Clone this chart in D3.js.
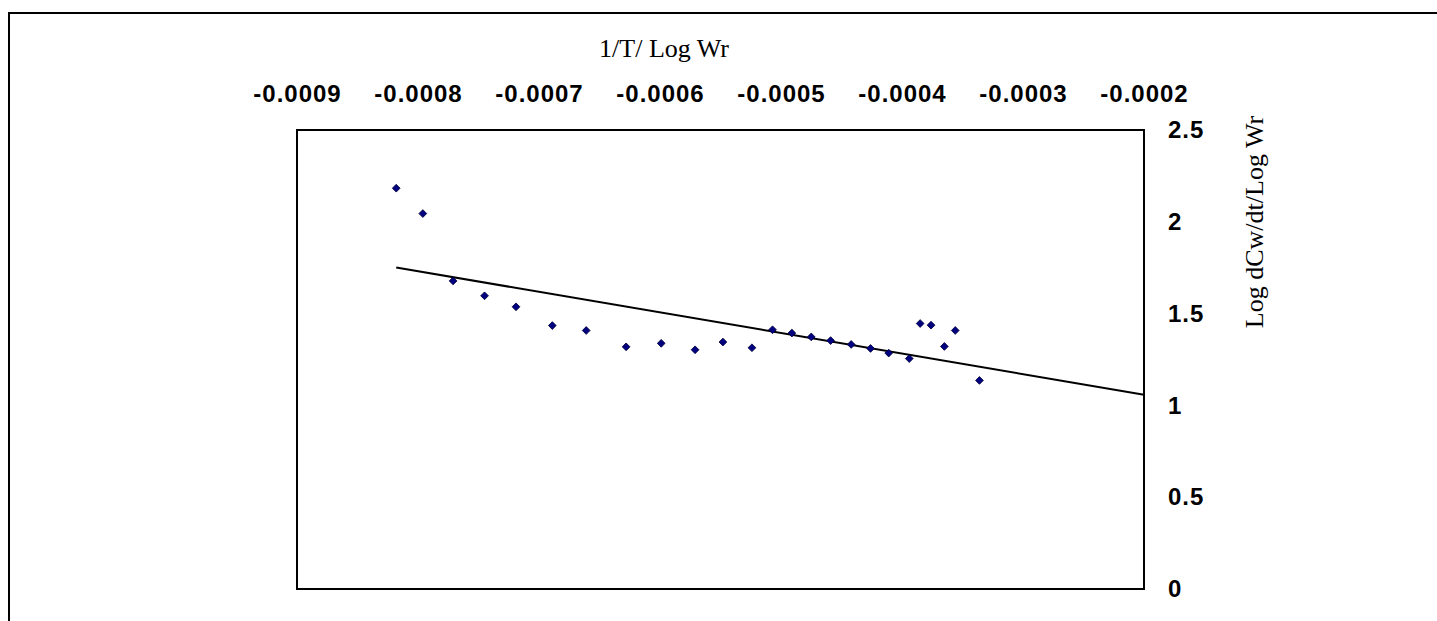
<!DOCTYPE html>
<html lang="en">
<head>
    <meta charset="UTF-8">
    <title>1/T / Log Wr</title>
    <script src="https://cdnjs.cloudflare.com/ajax/libs/d3/7.6.1/d3.min.js"></script>
    <style>
        body { margin: 0; background: #fff; }
        .tick text { font-family: 'Liberation Sans', Arial, sans-serif; font-weight: bold; font-size: 24px; letter-spacing: 1px; fill: #000; }
        .title { font-family: 'Liberation Serif', 'Times New Roman', serif; font-size: 26px; fill: #000; }
    </style>
</head>
<body>
    <div id="svgBox"></div>
    <script>
        // data
        var xVals = [-0.000818, -0.000796, -0.000771, -0.000745, -0.000719, -0.000689, -0.000661,
                     -0.000628, -0.000599, -0.000571, -0.000548, -0.000524, -0.000507, -0.000491,
                     -0.000475, -0.000459, -0.000442, -0.000426, -0.000411, -0.000394, -0.000385,
                     -0.000376, -0.000365, -0.000356, -0.000336];
        var yVals = [2.183, 2.045, 1.678, 1.597, 1.537, 1.435, 1.408,
                     1.319, 1.338, 1.303, 1.345, 1.314, 1.412, 1.394,
                     1.373, 1.353, 1.332, 1.310, 1.285, 1.255, 1.446,
                     1.437, 1.321, 1.408, 1.136];
        var trendX = [-0.000818, -0.0002];
        var trendY = [1.751, 1.058];
        var xTicks = [-0.0009, -0.0008, -0.0007, -0.0006, -0.0005, -0.0004, -0.0003, -0.0002];
        var yTicks = [0, 0.5, 1, 1.5, 2, 2.5];

        var w = 1437,
            h = 621,
            plotL = 297, plotR = 1144, plotT = 130, plotB = 589,
            svg = d3.select('#svgBox')
                        .append('svg')
                        .attr('width', w)
                        .attr('height', h);

        var xScale = d3.scaleLinear()
                       .domain([xTicks[0], xTicks[xTicks.length - 1]])
                       .range([plotL, plotR]);
        var yScale = d3.scaleLinear()
                       .domain([yTicks[0], yTicks[yTicks.length - 1]])
                       .range([plotB, plotT]);

        // outer frame (runs off the right and bottom edges)
        svg.append('path')
            .attr('d', 'M9,' + (h + 5) + 'V13H' + (w + 5))
            .attr('fill', 'none')
            .attr('stroke', '#000')
            .attr('stroke-width', 2);

        // plot area
        svg.append('rect')
            .attr('x', plotL)
            .attr('y', plotT)
            .attr('width', plotR - plotL)
            .attr('height', plotB - plotT)
            .attr('fill', '#fff')
            .attr('stroke', '#000')
            .attr('stroke-width', 2);

        // X-AXIS (on top)
        var xAxis = d3.axisTop(xScale)
                      .tickValues(xTicks)
                      .tickSize(0)
                      .tickPadding(28)
                      .tickFormat((d) => d.toFixed(4));
        svg.append('g')
            .attr('transform', 'translate(0,' + plotT + ')')
            .call(xAxis)
            .call((g) => g.select('.domain').remove());

        // Y-AXIS (on right)
        var yAxis = d3.axisRight(yScale)
                      .tickValues(yTicks)
                      .tickSize(0)
                      .tickPadding(24)
                      .tickFormat((d) => String(d));
        svg.append('g')
            .attr('transform', 'translate(' + plotR + ',0)')
            .call(yAxis)
            .call((g) => g.select('.domain').remove());

        // axis titles
        svg.append('text')
            .attr('class', 'title')
            .attr('x', 664)
            .attr('y', 57)
            .attr('text-anchor', 'middle')
            .text('1/T/ Log Wr');
        svg.append('text')
            .attr('class', 'title')
            .attr('transform', 'translate(1263,222) rotate(-90)')
            .attr('text-anchor', 'middle')
            .text('Log dCw/dt/Log Wr');

        // TRENDLINE
        svg.append('line')
            .attr('x1', xScale(trendX[0]))
            .attr('y1', yScale(trendY[0]))
            .attr('x2', xScale(trendX[1]))
            .attr('y2', yScale(trendY[1]))
            .attr('stroke', '#000')
            .attr('stroke-width', 2);

        // DOTS (diamonds)
        var diamond = d3.symbol().type(d3.symbolSquare).size(30);
        svg.selectAll('.dot')
            .data(xVals)
            .enter()
            .append('path')
            .attr('class', 'dot')
            .attr('d', diamond)
            .attr('transform', (d, i) => 'translate(' + xScale(d) + ',' + yScale(yVals[i]) + ') rotate(45)')
            .attr('fill', '#000080')
            .attr('stroke', '#00003a')
            .attr('stroke-width', 0.8);
    </script>
</body>
</html>
